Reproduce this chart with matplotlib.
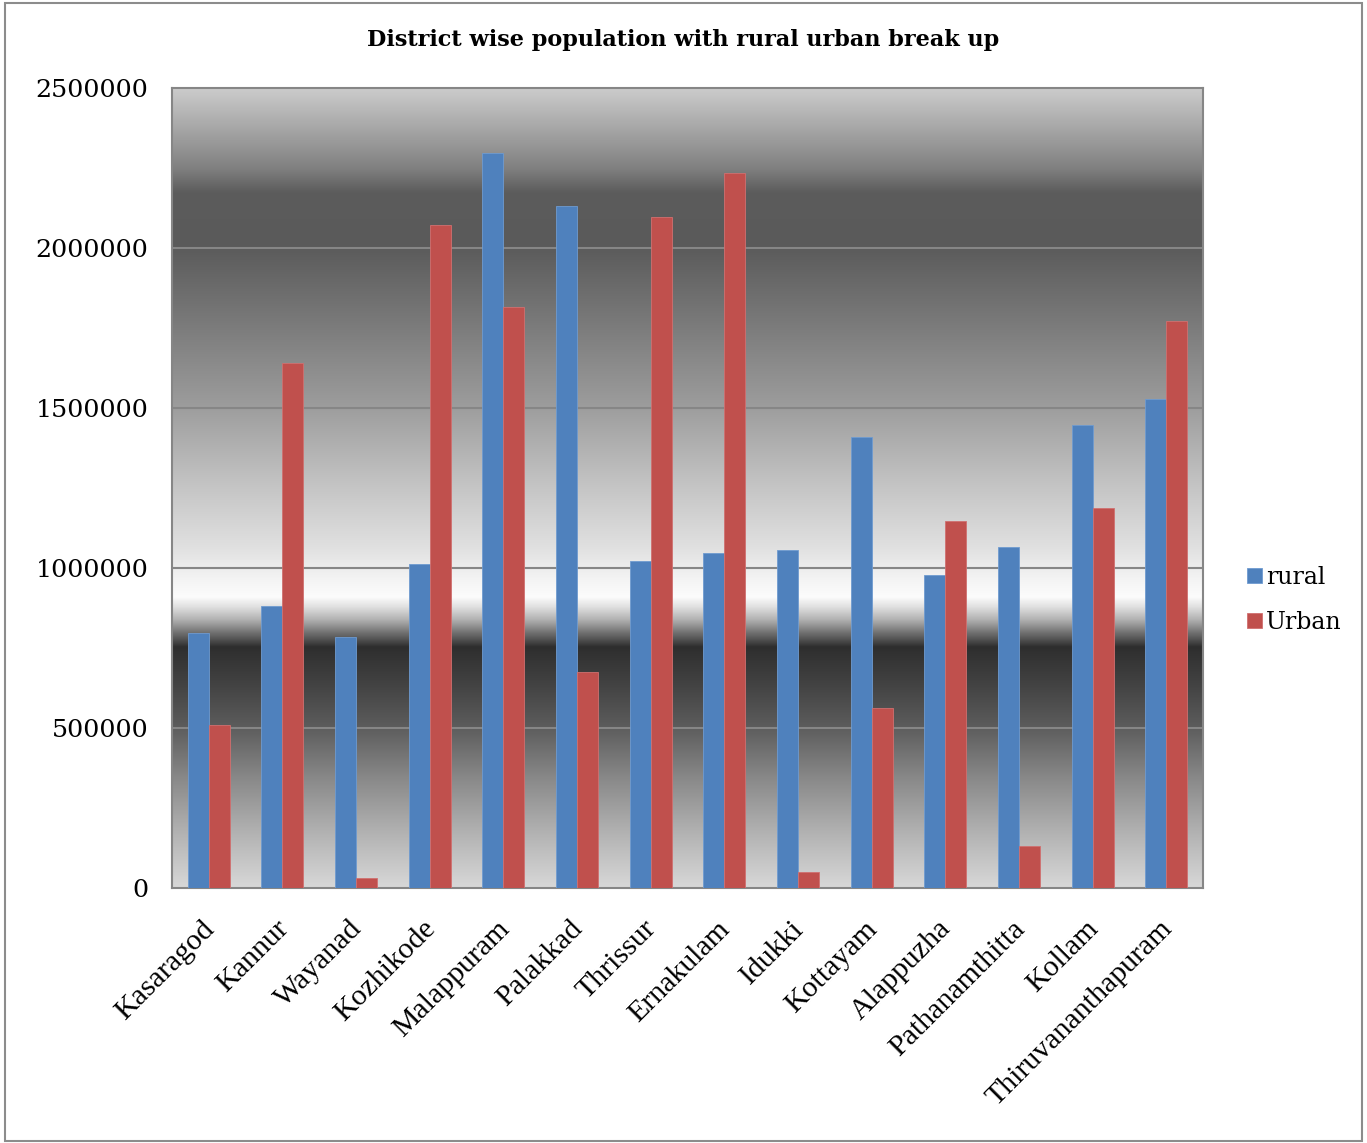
import numpy as np
import matplotlib.pyplot as plt
from matplotlib.patches import Rectangle

districts = ["Kasaragod", "Kannur", "Wayanad", "Kozhikode", "Malappuram",
             "Palakkad", "Thrissur", "Ernakulam", "Idukki", "Kottayam",
             "Alappuzha", "Pathanamthitta", "Kollam", "Thiruvananthapuram"]
rural = [797000, 881000, 784000, 1012000, 2297000, 2131000, 1022000,
         1047000, 1056000, 1409000, 978000, 1066000, 1447000, 1528000]
urban = [509000, 1640000, 31000, 2072000, 1816000, 675000, 2097000,
         2234000, 50000, 562000, 1147000, 131000, 1187000, 1772000]
y_ticks = [0, 500000, 1000000, 1500000, 2000000, 2500000]

# excel style background: pixel row -> grey level
grad_px = np.array([88, 92, 135, 168, 192, 245, 318, 405, 485, 547, 580, 597,
                    607, 620, 633, 640, 647, 680, 727, 780, 830, 888])
grad_grey = np.array([0xcc, 0xc8, 0xa0, 0x80, 0x5c, 0x5a, 0x78, 0x9c, 0xc4,
                      0xe0, 0xf4, 0xfc, 0xe0, 0xb0, 0x70, 0x50, 0x2e, 0x40,
                      0x5c, 0x8a, 0xb0, 0xd8]) / 255.0
grad_val = (888 - grad_px) * 3125.0

fig = plt.figure(figsize=(13.67, 11.43), dpi=100)
ax = fig.add_axes([172 / 1367, 1 - 888 / 1143, (1203 - 172) / 1367, 800 / 1143])

ys = np.linspace(0, 2500000, 1000)
grey = np.interp(ys, grad_val[::-1], grad_grey[::-1])
img = np.repeat(grey[:, None], 3, axis=1)[:, None, :]
ax.imshow(img, extent=[-0.5, len(districts) - 0.5, 0, 2500000],
          origin="lower", aspect="auto", zorder=0, interpolation="bilinear")

x = np.arange(len(districts))
w = 0.285
ax.bar(x - w / 2, rural, w, color="#4f81bd", edgecolor="#6f9bd0",
       linewidth=0.6, label="rural", zorder=3)
ax.bar(x + w / 2, urban, w, color="#c0504d", edgecolor="#d07070",
       linewidth=0.6, label="Urban", zorder=3)

ax.set_xlim(-0.5, len(districts) - 0.5)
ax.set_ylim(0, 2500000)
ax.set_yticks(y_ticks)
ax.set_yticklabels([str(t) for t in y_ticks], fontfamily="DejaVu Serif",
                   fontsize=18.3)
for t in y_ticks[1:-1]:
    ax.axhline(t, color="#868686", linewidth=1.5, zorder=1)
ax.tick_params(axis="y", length=0, pad=17)
ax.tick_params(axis="x", length=0, pad=20)
ax.set_xticks(x - 0.1)
ax.set_xticklabels(districts, rotation=45, ha="right", va="top",
                   rotation_mode="anchor", fontfamily="Liberation Serif",
                   fontsize=21.5)
for s in ax.spines.values():
    s.set_color("#868686")
    s.set_linewidth(1.5)

fig.text(0.5, 1 - 40 / 1143, "District wise population with rural urban break up",
         ha="center", va="center", fontfamily="DejaVu Serif",
         fontweight="bold", fontsize=16.1)

fig.legend(loc="center left", bbox_to_anchor=(1238 / 1367, 1 - 600 / 1143),
           frameon=False, prop={"family": "DejaVu Serif", "size": 17},
           handlelength=0.6, handleheight=0.6, handletextpad=0.2,
           labelspacing=0.95, borderaxespad=0)

fig.patches.append(Rectangle((0.004, 0.002), 0.992, 0.995,
                             transform=fig.transFigure, fill=False,
                             edgecolor="#8c8c8c", linewidth=1.5))

fig.savefig("out.png", dpi=100)
